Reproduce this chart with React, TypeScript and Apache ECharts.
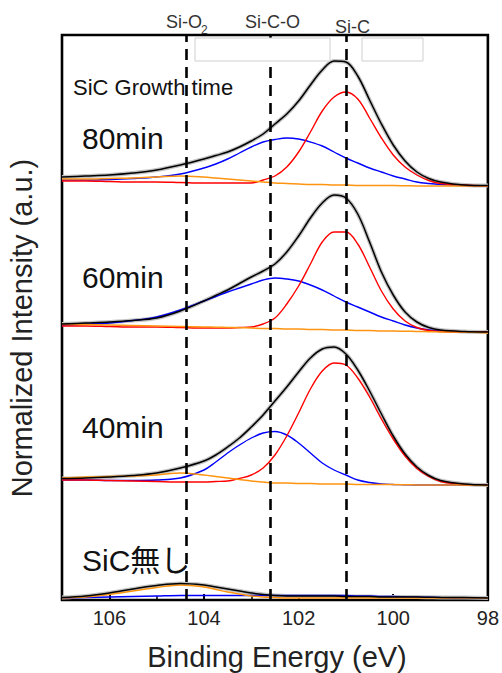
import React, { useEffect, useRef } from "react";
import * as echarts from "echarts";

// Binding energy sample points (eV)
const ENERGY = [107, 106.5, 106, 105.5, 105, 104.5, 104, 103.75, 103.5, 103.25, 103, 102.75, 102.5, 102.25, 102, 101.75, 101.5, 101.25, 101, 100.75, 100.5, 100.25, 100, 99.75, 99.5, 99.25, 99, 98.5, 98];

const SAMPLES = ["80min", "60min", "40min", "SiC無し"];
const OFFSETS = [4.14, 2.68, 1.15, 0.02];

// 80min
const TOTAL_80 = [0.09, 0.10, 0.11, 0.13, 0.16, 0.21, 0.27, 0.305, 0.34, 0.39, 0.45, 0.52, 0.62, 0.72, 0.85, 1.01, 1.16, 1.25, 1.24, 1.10, 0.86, 0.62, 0.41, 0.25, 0.14, 0.075, 0.04, 0.01, 0.005];
const SIC_80 = [0.05, 0.05, 0.045, 0.04, 0.04, 0.035, 0.03, 0.03, 0.03, 0.03, 0.03, 0.06, 0.10, 0.19, 0.34, 0.54, 0.75, 0.89, 0.94, 0.87, 0.68, 0.48, 0.31, 0.19, 0.11, 0.055, 0.025, 0.01, 0];
const SICO_80 = [0.06, 0.06, 0.065, 0.075, 0.09, 0.12, 0.18, 0.22, 0.27, 0.33, 0.39, 0.44, 0.465, 0.48, 0.47, 0.44, 0.40, 0.34, 0.28, 0.23, 0.18, 0.14, 0.10, 0.07, 0.04, 0.025, 0.015, 0.005, 0];
const SIO2_80 = [0.07, 0.07, 0.075, 0.08, 0.09, 0.10, 0.09, 0.08, 0.07, 0.06, 0.05, 0.04, 0.03, 0.025, 0.02, 0.015, 0.015, 0.01, 0.01, 0.005, 0.005, 0.005, 0.005, 0.003, 0, 0, 0, 0, 0];

// 60min
const TOTAL_60 = [0.08, 0.09, 0.10, 0.115, 0.14, 0.21, 0.31, 0.365, 0.42, 0.485, 0.55, 0.61, 0.68, 0.80, 0.96, 1.14, 1.29, 1.37, 1.34, 1.18, 0.90, 0.60, 0.37, 0.20, 0.10, 0.045, 0.02, 0.005, 0];
const SIC_60 = [0.06, 0.06, 0.055, 0.05, 0.05, 0.045, 0.04, 0.04, 0.04, 0.045, 0.05, 0.08, 0.14, 0.28, 0.46, 0.68, 0.90, 1.00, 1.00, 0.88, 0.65, 0.41, 0.23, 0.11, 0.045, 0.015, 0.005, 0, 0];
const SICO_60 = [0.07, 0.08, 0.09, 0.115, 0.15, 0.22, 0.31, 0.355, 0.40, 0.44, 0.48, 0.52, 0.54, 0.53, 0.51, 0.47, 0.42, 0.36, 0.30, 0.25, 0.20, 0.15, 0.11, 0.07, 0.04, 0.02, 0.01, 0, 0];
const SIO2_60 = [0.08, 0.075, 0.07, 0.065, 0.06, 0.055, 0.05, 0.048, 0.045, 0.043, 0.04, 0.035, 0.035, 0.03, 0.03, 0.025, 0.025, 0.02, 0.02, 0.015, 0.015, 0.01, 0.01, 0.008, 0.005, 0.003, 0, 0, -0.01];

// 40min
const TOTAL_40 = [0.065, 0.07, 0.08, 0.095, 0.12, 0.17, 0.24, 0.30, 0.38, 0.47, 0.58, 0.70, 0.84, 0.98, 1.13, 1.27, 1.36, 1.38, 1.31, 1.15, 0.94, 0.71, 0.49, 0.31, 0.18, 0.095, 0.045, 0.01, 0];
const SIC_40 = [0.05, 0.05, 0.045, 0.04, 0.035, 0.03, 0.03, 0.035, 0.04, 0.065, 0.10, 0.17, 0.30, 0.49, 0.72, 0.96, 1.14, 1.22, 1.20, 1.07, 0.88, 0.66, 0.46, 0.29, 0.165, 0.085, 0.035, 0.005, 0];
const SICO_40 = [0.05, 0.05, 0.045, 0.045, 0.05, 0.07, 0.15, 0.23, 0.32, 0.40, 0.47, 0.52, 0.535, 0.50, 0.42, 0.32, 0.22, 0.15, 0.10, 0.05, 0.025, 0.01, 0.005, 0.002, 0, 0, 0, 0, 0];
const SIO2_40 = [0.07, 0.08, 0.085, 0.09, 0.10, 0.12, 0.10, 0.085, 0.07, 0.055, 0.04, 0.03, 0.02, 0.02, 0.015, 0.015, 0.01, 0.01, 0.01, 0.005, 0.005, 0.005, 0.005, 0.003, 0, 0, 0, 0, -0.005];

// SiC無し
const TOTAL_0 = [0.005, 0.02, 0.05, 0.09, 0.125, 0.145, 0.13, 0.11, 0.09, 0.07, 0.05, 0.035, 0.025, 0.02, 0.02, 0.02, 0.02, 0.02, 0.015, 0.015, 0.015, 0.01, 0.01, 0.01, 0.01, 0.008, 0.005, 0.005, 0];
const SICO_0 = [0, 0.005, 0.01, 0.015, 0.02, 0.025, 0.025, 0.025, 0.025, 0.025, 0.025, 0.025, 0.025, 0.025, 0.025, 0.025, 0.025, 0.025, 0.025, 0.02, 0.02, 0.015, 0.015, 0.012, 0.01, 0.008, 0.005, 0, 0];
const SIO2_0 = [0, 0.01, 0.035, 0.07, 0.105, 0.13, 0.11, 0.085, 0.06, 0.04, 0.02, 0.01, 0.005, 0, 0, 0, 0, 0, 0, 0, 0, 0, 0, 0, 0, 0, 0, 0, 0];

const TOTALS = [TOTAL_80, TOTAL_60, TOTAL_40, TOTAL_0];
const SIC = [SIC_80, SIC_60, SIC_40, null];
const SICO = [SICO_80, SICO_60, SICO_40, SICO_0];
const SIO2 = [SIO2_80, SIO2_60, SIO2_40, SIO2_0];

const PEAK_POSITIONS = [104.38, 102.6, 101.0];
const X_TICKS = [106, 104, 102, 100, 98];

const FONT = "'Liberation Sans', Arial, 'Noto Sans CJK JP', sans-serif";

function toSeries(arr: number[], off: number) {
  return ENERGY.map((e, i) => [e, +(arr[i] + off).toFixed(4)]);
}

export default function App() {
  const ref = useRef<HTMLDivElement>(null);
  useEffect(() => {
    if (!ref.current) return;
    const chart = echarts.init(ref.current, null, { renderer: "svg" });
    const series: any[] = [];
    const smooth = 0.35;
    SAMPLES.forEach((name, p) => {
      const off = OFFSETS[p];
      series.push({
        name: name + " data", type: "line", data: toSeries(TOTALS[p], off), smooth,
        showSymbol: false, lineStyle: { color: "#c2c2c2", width: 4 }, z: 1,
      });
      series.push({
        name: name + " Si-C-O", type: "line", data: toSeries(SICO[p], off), smooth,
        showSymbol: false, lineStyle: { color: "#0000ff", width: 1.4 }, z: 2,
      });
      if (SIC[p]) {
        series.push({
          name: name + " Si-C", type: "line", data: toSeries(SIC[p] as number[], off), smooth,
          showSymbol: false, lineStyle: { color: "#ff0000", width: 1.4 }, z: 3,
        });
      }
      series.push({
        name: name + " Si-O2", type: "line", data: toSeries(SIO2[p], off), smooth,
        showSymbol: false, lineStyle: { color: "#ff9410", width: 1.5 }, z: 4,
      });
      series.push({
        name: name + " fit", type: "line", data: toSeries(TOTALS[p], off), smooth,
        showSymbol: false, lineStyle: { color: "#000000", width: 1.5 }, z: 5,
      });
    });
    series.push({
      name: "peaks", type: "line", data: [], z: 6,
      markLine: {
        silent: true, symbol: ["none", "none"], animation: false,
        lineStyle: { color: "#000", width: 2.6, type: [11, 7] },
        label: { show: false },
        data: PEAK_POSITIONS.map((v) => ({ xAxis: v })),
      },
    });

    const gText = (text: string, x: number, y: number, size: number, extra: any = {}) => ({
      type: "text", x, y, z: 100, ...extra,
      style: { text, fontSize: size, fontFamily: FONT, fill: extra.fill || "#111", align: extra.align || "left", verticalAlign: "middle" },
    });

    chart.setOption({
      animation: false,
      backgroundColor: "#fff",
      grid: { left: 62, right: 9, top: 35, bottom: 73, show: true, borderColor: "#000", borderWidth: 2.6, backgroundColor: "transparent" },
      xAxis: {
        type: "value", min: 98, max: 107, interval: 2, inverse: true,
        axisLine: { show: false },
        axisTick: { show: true, inside: true, length: 6, lineStyle: { color: "#000", width: 2 } },
        minorTick: { show: true, splitNumber: 2, length: 4, lineStyle: { color: "#000", width: 1.5 } },
        splitLine: { show: false },
        axisLabel: {
          showMaxLabel: false, margin: 8, fontSize: 20, color: "#222", fontFamily: FONT,
          formatter: (v: number) => (X_TICKS.includes(v) ? String(v) : ""),
        },
      },
      yAxis: { type: "value", min: 0, max: 5.65, show: false },
      series,
      graphic: [
        { type: "rect", z: 90, shape: { x: 195, y: 38, width: 135, height: 23 }, style: { fill: "#fff", stroke: "#cfcfcf", lineWidth: 1 } },
        { type: "rect", z: 90, shape: { x: 362, y: 38, width: 61, height: 23 }, style: { fill: "#fff", stroke: "#cfcfcf", lineWidth: 1 } },
        gText("Si-O", 166, 22, 18, { fill: "#333" }),
        gText("2", 201, 30, 12, { fill: "#333" }),
        gText("Si-C-O", 245, 22, 18, { fill: "#333" }),
        gText("Si-C", 335, 27, 18, { fill: "#333" }),
        gText("SiC Growth time", 73, 87, 22),
        gText(SAMPLES[0], 82, 138, 30),
        gText(SAMPLES[1], 82, 277, 30),
        gText(SAMPLES[2], 82, 427, 30),
        gText(SAMPLES[3], 82, 560, 30),
        gText("Binding Energy (eV)", 277, 657, 29, { align: "center", fill: "#222" }),
        gText("Normalized Intensity (a.u.)", 22, 328, 29, { align: "center", rotation: Math.PI / 2, fill: "#222" }),
      ],
    });
    return () => chart.dispose();
  }, []);
  return <div ref={ref} style={{ position: "fixed", left: 0, top: 0, width: 502, height: 673, background: "#fff" }} />;
}
